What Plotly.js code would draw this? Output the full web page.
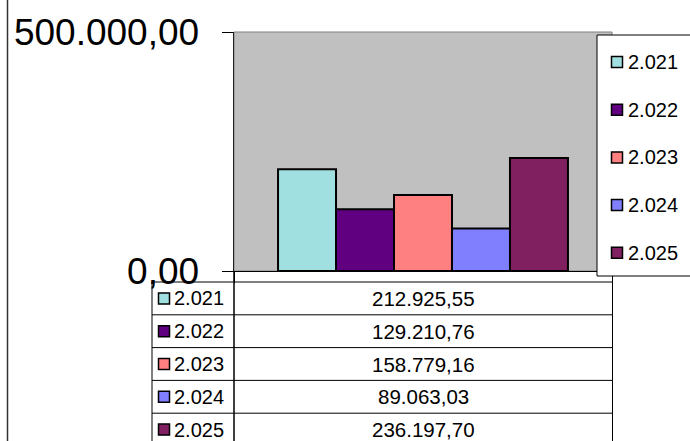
<!DOCTYPE html>
<html>
<head>
<meta charset="utf-8">
<script src="https://cdn.plot.ly/plotly-3.0.1.min.js"></script>
<style>html,body{margin:0;padding:0;background:#fff;}#chart{width:690px;height:441px;}</style>
</head>
<body>
<div id="chart"></div>
<script>
// ---- data ----
var seriesNames = ["2.021", "2.022", "2.023", "2.024", "2.025"];
var seriesValues = [212925.55, 129210.76, 158779.16, 89063.03, 236197.70];
var valueLabels = ["212.925,55", "129.210,76", "158.779,16", "89.063,03", "236.197,70"];
var seriesColors = ["#A0E0E0", "#600080", "#FF8080", "#8080FF", "#802060"];
var yTickVals = [0, 500000];
var yTickText = ["0,00", "500.000,00"];

// ---- geometry (pixels) ----
var W = 690, H = 441;
var L = 234, R = 612, T = 32, B = 271;
function px(x) { return (x - L) / (R - L); }
function py(y) { return (B - y) / (B - T); }
var FONT = "Liberation Sans, Arial, sans-serif";

var traces = seriesNames.map(function (n, i) {
  return {
    type: "bar", name: n, x: [0], y: [seriesValues[i]],
    marker: { color: seriesColors[i], line: { color: "#000", width: 2 } },
    hoverinfo: "name+y", showlegend: false
  };
});

var shapes = [], annotations = [];
// plot area gray border
shapes.push({ type: "rect", xref: "paper", yref: "paper", x0: 0, x1: 1, y0: 0, y1: 1,
  line: { color: "#808080", width: 1 }, layer: "below" });
// left chart border line
shapes.push({ type: "line", xref: "paper", yref: "paper", x0: px(7.5), x1: px(7.5), y0: py(-5), y1: py(450),
  line: { color: "#333", width: 1.5 } });

// legend box
var lgL = 597, lgT = 35, lgB = 276;
shapes.push({ type: "rect", xref: "paper", yref: "paper", x0: px(lgL), x1: px(720), y0: py(lgB), y1: py(lgT),
  fillcolor: "#fff", line: { color: "#000", width: 1 } });
var lgY0 = 62, lgDy = 47.7;
seriesNames.forEach(function (n, i) {
  var cy = lgY0 + i * lgDy;
  shapes.push({ type: "rect", xref: "paper", yref: "paper", x0: px(611.5), x1: px(622.5), y0: py(cy + 5.5), y1: py(cy - 5.5),
    fillcolor: seriesColors[i], line: { color: "#000", width: 1.5 } });
  annotations.push({ xref: "paper", yref: "paper", x: px(626), y: py(cy), xanchor: "left", yanchor: "middle",
    text: n, showarrow: false, font: { family: FONT, size: 20, color: "#000" } });
});

// data table
var tbL = 152, tbM = 234, tbR = 612.5, tbT = 282, rowH = 32.8;
var nRows = seriesNames.length;
var tbB = tbT + rowH * nRows;
shapes.push({ type: "line", xref: "paper", yref: "paper", x0: px(tbL), x1: px(tbL), y0: py(tbT), y1: py(tbB), line: { color: "#000", width: 1 } });
shapes.push({ type: "line", xref: "paper", yref: "paper", x0: px(tbM), x1: px(tbM), y0: py(B), y1: py(tbB), line: { color: "#000", width: 1.5 } });
shapes.push({ type: "line", xref: "paper", yref: "paper", x0: px(tbR), x1: px(tbR), y0: py(lgB), y1: py(tbB), line: { color: "#000", width: 1 } });
for (var r = 0; r <= nRows; r++) {
  var yy = tbT + r * rowH;
  shapes.push({ type: "line", xref: "paper", yref: "paper", x0: px(tbL), x1: px(tbR), y0: py(yy), y1: py(yy), line: { color: "#000", width: 1 } });
}
seriesNames.forEach(function (n, i) {
  var cy = tbT + (i + 0.5) * rowH;
  shapes.push({ type: "rect", xref: "paper", yref: "paper", x0: px(158.5), x1: px(169.5), y0: py(cy + 5.5), y1: py(cy - 5.5),
    fillcolor: seriesColors[i], line: { color: "#000", width: 1.5 } });
  annotations.push({ xref: "paper", yref: "paper", x: px(172), y: py(cy), xanchor: "left", yanchor: "middle",
    text: n, showarrow: false, font: { family: FONT, size: 20, color: "#000" } });
  annotations.push({ xref: "paper", yref: "paper", x: px((tbM + tbR) / 2), y: py(cy), xanchor: "center", yanchor: "middle",
    text: valueLabels[i], showarrow: false, font: { family: FONT, size: 20.5, color: "#000" } });
});

var layout = {
  width: W, height: H,
  margin: { l: L, r: W - R, t: T, b: H - B, pad: 0 },
  paper_bgcolor: "#fff", plot_bgcolor: "#C0C0C0",
  barmode: "group", bargap: 0.233, bargroupgap: 0,
  showlegend: false,
  font: { family: FONT, color: "#000" },
  xaxis: { type: "linear", range: [-0.5, 0.5], showgrid: false, zeroline: false,
    showline: true, linecolor: "#000", linewidth: 1,
    tickmode: "array", tickvals: [-0.5, 0.5], ticktext: ["", ""], ticks: "outside", ticklen: 11, tickcolor: "#000",
    fixedrange: true },
  yaxis: { range: [0, 500000], showgrid: false, zeroline: false,
    showline: true, linecolor: "#222", linewidth: 1.5,
    tickmode: "array", tickvals: yTickVals, ticktext: yTickText,
    ticks: "outside", ticklen: 11, tickcolor: "#000", tickwidth: 1,
    tickfont: { family: FONT, size: 37, color: "#000" }, ticklabelstandoff: 15,
    fixedrange: true },
  shapes: shapes, annotations: annotations
};

Plotly.newPlot("chart", traces, layout, { displayModeBar: false, staticPlot: true });
</script>
</body>
</html>
